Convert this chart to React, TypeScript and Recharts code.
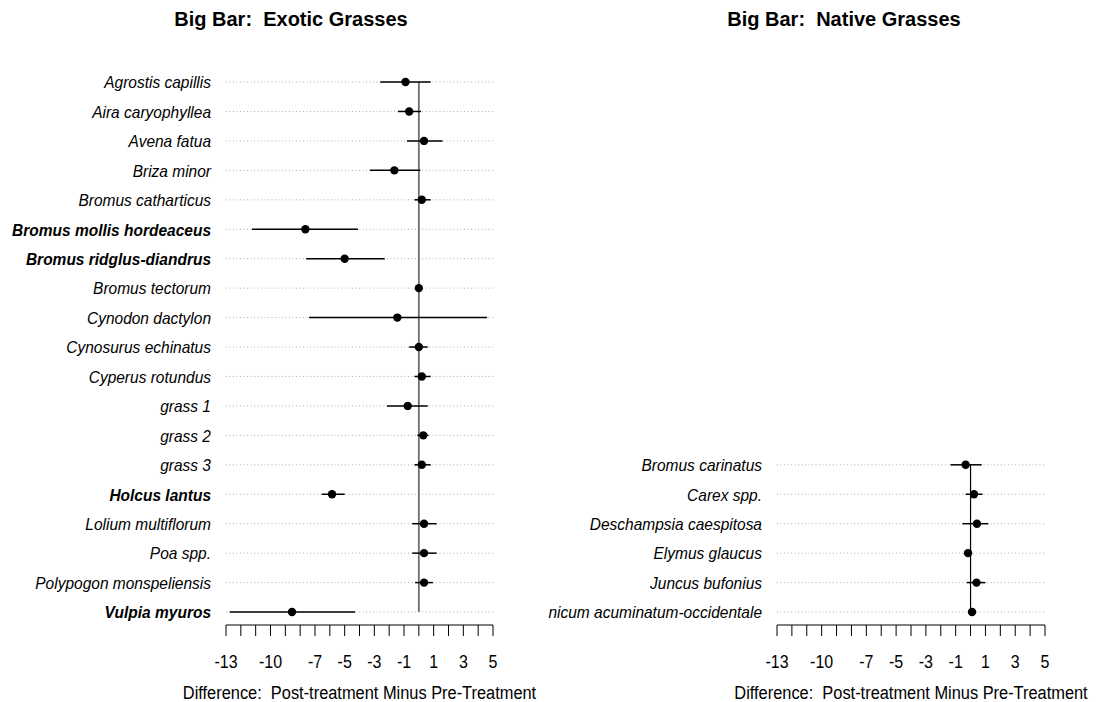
import React from 'react';
import { ScatterChart, Scatter, XAxis, YAxis, ErrorBar, ReferenceLine } from 'recharts';

const FONT = "'Liberation Sans', Arial, Helvetica, sans-serif";

// ---- Data: exotic grasses (top to bottom) ----
const exoticSpecies = [
  'Agrostis capillis', 'Aira caryophyllea', 'Avena fatua', 'Briza minor', 'Bromus catharticus',
  'Bromus mollis hordeaceus', 'Bromus ridglus-diandrus', 'Bromus tectorum', 'Cynodon dactylon',
  'Cynosurus echinatus', 'Cyperus rotundus', 'grass 1', 'grass 2', 'grass 3', 'Holcus lantus',
  'Lolium multiflorum', 'Poa spp.', 'Polypogon monspeliensis', 'Vulpia myuros',
];
const exoticMean = [-0.9, -0.65, 0.35, -1.65, 0.2, -7.65, -5.0, 0.0, -1.45, 0.0, 0.2, -0.75, 0.3, 0.2, -5.85, 0.35, 0.35, 0.35, -8.55];
const exoticLow = [-2.6, -1.4, -0.8, -3.3, -0.3, -11.25, -7.6, -0.1, -7.4, -0.65, -0.3, -2.15, -0.1, -0.3, -6.55, -0.45, -0.45, -0.25, -12.75];
const exoticHigh = [0.8, 0.15, 1.6, 0.1, 0.8, -4.1, -2.3, 0.05, 4.6, 0.6, 0.8, 0.6, 0.65, 0.8, -5.0, 1.2, 1.2, 0.95, -4.3];
const exoticBold = ['Bromus mollis hordeaceus', 'Bromus ridglus-diandrus', 'Holcus lantus', 'Vulpia myuros'];

// ---- Data: native grasses (top to bottom) ----
const nativeSpecies = [
  'Bromus carinatus', 'Carex spp.', 'Deschampsia caespitosa', 'Elymus glaucus', 'Juncus bufonius',
  'Panicum acuminatum-occidentale',
];
const nativeMean = [-0.33, 0.23, 0.43, -0.17, 0.4, 0.1];
const nativeLow = [-1.35, -0.33, -0.55, -0.3, -0.25, -0.05];
const nativeHigh = [0.75, 0.8, 1.2, 0.1, 1.0, 0.25];
const nativeBold: string[] = [];

// ---- Axis ----
const xTickValues = [-13, -12, -11, -10, -9, -8, -7, -6, -5, -4, -3, -2, -1, 0, 1, 2, 3, 4, 5];
const xTickLabels = [-13, -10, -7, -5, -3, -1, 1, 3, 5];
const xDomain = [-13, 5];
const rowCount = 19;

const titles = ['Big Bar:  Exotic Grasses', 'Big Bar:  Native Grasses'];
const xTitle = 'Difference:  Post-treatment Minus Pre-Treatment';

function buildRows(species: string[], mean: number[], low: number[], high: number[]) {
  const n = species.length;
  return species.map((s, k) => ({
    name: s,
    x: mean[k],
    y: n - k,
    err: [mean[k] - low[k], high[k] - mean[k]],
  }));
}

const Dot = (props: any) => {
  const { cx, cy } = props;
  if (cx == null || cy == null) return null;
  return <circle cx={cx} cy={cy} r={4.2} fill="#000" />;
};

const makeYTick = (species: string[], bold: string[]) => (props: any) => {
  const { x, y, payload } = props;
  const n = species.length;
  const name = species[n - payload.value];
  if (!name) return null;
  const isBold = bold.includes(name);
  return (
    <text
      transform={`translate(${x},${y + 6.3}) scale(1,1.08)`}
      textAnchor="end"
      fontFamily={FONT}
      fontSize={15.5}
      fontStyle="italic"
      fontWeight={isBold ? 'bold' : 'normal'}
      fill="#000"
    >
      {name}
    </text>
  );
};

const XTick = (props: any) => {
  const { x, y, payload } = props;
  if (!xTickLabels.includes(payload.value)) return null;
  return (
    <text
      transform={`translate(${x},${y + 32}) scale(1,1.12)`}
      textAnchor="middle"
      fontFamily={FONT}
      fontSize={16}
      fill="#000"
    >
      {String(payload.value)}
    </text>
  );
};

type PanelProps = {
  species: string[];
  mean: number[];
  low: number[];
  high: number[];
  bold: string[];
  left: number;
  width: number;
  yAxisWidth: number;
  zeroColor: string;
  zeroWidth: number;
};

function Panel(p: PanelProps) {
  const data = buildRows(p.species, p.mean, p.low, p.high);
  const n = p.species.length;
  const yTicks = data.map((d) => d.y);
  return (
    <div style={{ position: 'absolute', left: p.left, top: 0, width: p.width, height: 702, overflow: 'hidden' }}>
      <ScatterChart width={p.width} height={702} margin={{ top: 67.3, right: 55, bottom: 17, left: 0 }}>
        <XAxis
          type="number"
          dataKey="x"
          domain={xDomain}
          ticks={xTickValues}
          interval={0}
          allowDataOverflow
          tickSize={11}
          tickMargin={0}
          height={60}
          stroke="#000"
          axisLine={{ stroke: '#000', strokeWidth: 1 }}
          tickLine={{ stroke: '#000', strokeWidth: 1 }}
          tick={<XTick />}
        />
        <YAxis
          type="number"
          dataKey="y"
          domain={[0.56, rowCount + 0.5]}
          ticks={yTicks}
          interval={0}
          allowDataOverflow
          width={p.yAxisWidth}
          axisLine={false}
          tickLine={false}
          tickSize={0}
          tickMargin={15}
          tick={makeYTick(p.species, p.bold)}
        />
        {yTicks.map((v) => (
          <ReferenceLine key={'g' + v} y={v} stroke="#b0b0b0" strokeDasharray="1 2.5" strokeWidth={1} />
        ))}
        <ReferenceLine
          segment={[{ x: 0, y: 1 }, { x: 0, y: n }]}
          stroke={p.zeroColor}
          strokeWidth={p.zeroWidth}
        />
        <Scatter data={data} shape={<Dot />} isAnimationActive={false}>
          <ErrorBar dataKey="err" direction="x" width={0} stroke="#000" strokeWidth={1.5} isAnimationActive={false} />
        </Scatter>
      </ScatterChart>
    </div>
  );
}

export default function App() {
  return (
    <div style={{ position: 'absolute', left: 0, top: 0, width: 1100, height: 702, background: '#fff', overflow: 'hidden' }}>
      <Panel
        species={exoticSpecies}
        mean={exoticMean}
        low={exoticLow}
        high={exoticHigh}
        bold={exoticBold}
        left={0}
        width={548}
        yAxisWidth={226}
        zeroColor="#6e6e6e"
        zeroWidth={1.8}
      />
      <Panel
        species={nativeSpecies}
        mean={nativeMean}
        low={nativeLow}
        high={nativeHigh}
        bold={nativeBold}
        left={548}
        width={552}
        yAxisWidth={229}
        zeroColor="#000"
        zeroWidth={1.2}
      />
      <svg width={1100} height={702} style={{ position: 'absolute', left: 0, top: 0, pointerEvents: 'none' }}>
        <text x={291} y={26} textAnchor="middle" fontFamily={FONT} fontSize={20} fontWeight="bold" fill="#000" style={{ whiteSpace: 'pre' }}>
          {titles[0]}
        </text>
        <text x={844} y={26} textAnchor="middle" fontFamily={FONT} fontSize={20} fontWeight="bold" fill="#000" style={{ whiteSpace: 'pre' }}>
          {titles[1]}
        </text>
        <text transform="translate(359.5,699) scale(1,1.07)" textAnchor="middle" fontFamily={FONT} fontSize={16.4} fill="#000" style={{ whiteSpace: 'pre' }}>
          {xTitle}
        </text>
        <text transform="translate(911,699) scale(1,1.07)" textAnchor="middle" fontFamily={FONT} fontSize={16.4} fill="#000" style={{ whiteSpace: 'pre' }}>
          {xTitle}
        </text>
      </svg>
    </div>
  );
}
